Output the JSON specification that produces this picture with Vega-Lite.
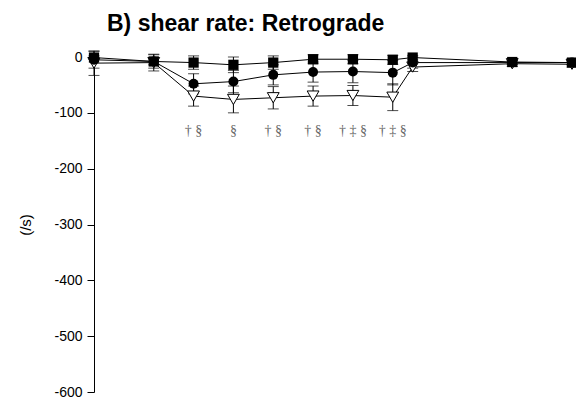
{
  "$schema": "https://vega.github.io/schema/vega-lite/v6.json",
  "width": 478,
  "height": 335,
  "autosize": "none",
  "padding": {"left": 94, "top": 57, "right": 4, "bottom": 9},
  "background": "white",
  "title": {"text": "B) shear rate: Retrograde", "anchor": "start", "frame": "group", "dx": 13, "fontSize": 23, "fontWeight": "bold", "font": "Liberation Sans", "color": "black", "offset": 14},
  "config": {"view": {"stroke": null}},
  "datasets": {
    "pts": [
      {"t": 0, "g": "g1", "m": -1, "sd": 3},
      {"t": 3, "g": "g1", "m": -8, "sd": 6},
      {"t": 5, "g": "g1", "m": -10, "sd": 12},
      {"t": 7, "g": "g1", "m": -14, "sd": 14},
      {"t": 9, "g": "g1", "m": -10, "sd": 12},
      {"t": 11, "g": "g1", "m": -4, "sd": 8},
      {"t": 13, "g": "g1", "m": -4, "sd": 8},
      {"t": 15, "g": "g1", "m": -5, "sd": 8},
      {"t": 16, "g": "g1", "m": -1, "sd": 4},
      {"t": 21, "g": "g1", "m": -9, "sd": 4},
      {"t": 24, "g": "g1", "m": -10, "sd": 4},
      {"t": 0, "g": "g2", "m": -5, "sd": 15},
      {"t": 3, "g": "g2", "m": -8, "sd": 12},
      {"t": 5, "g": "g2", "m": -48, "sd": 18},
      {"t": 7, "g": "g2", "m": -44, "sd": 20},
      {"t": 9, "g": "g2", "m": -32, "sd": 18},
      {"t": 11, "g": "g2", "m": -27, "sd": 18},
      {"t": 13, "g": "g2", "m": -26, "sd": 20},
      {"t": 15, "g": "g2", "m": -28, "sd": 22},
      {"t": 16, "g": "g2", "m": -10, "sd": 10},
      {"t": 21, "g": "g2", "m": -10, "sd": 4},
      {"t": 24, "g": "g2", "m": -10, "sd": 4},
      {"t": 0, "g": "g3", "m": -11, "sd": 22},
      {"t": 3, "g": "g3", "m": -10, "sd": 15},
      {"t": 5, "g": "g3", "m": -70, "sd": 18},
      {"t": 7, "g": "g3", "m": -76, "sd": 24},
      {"t": 9, "g": "g3", "m": -73, "sd": 20},
      {"t": 11, "g": "g3", "m": -70, "sd": 18},
      {"t": 13, "g": "g3", "m": -69, "sd": 18},
      {"t": 15, "g": "g3", "m": -72, "sd": 24},
      {"t": 16, "g": "g3", "m": -18, "sd": 8},
      {"t": 21, "g": "g3", "m": -12, "sd": 5},
      {"t": 24, "g": "g3", "m": -13, "sd": 5}
    ],
    "notes": [
      {"t": 5, "label": "† §"},
      {"t": 7, "label": "§"},
      {"t": 9, "label": "† §"},
      {"t": 11, "label": "† §"},
      {"t": 13, "label": "† ‡ §"},
      {"t": 15, "label": "† ‡ §"}
    ]
  },
  "encoding": {
    "x": {"field": "t", "type": "quantitative", "scale": {"domain": [0, 24], "nice": false, "zero": false}, "axis": null}
  },
  "layer": [
    {
      "data": {"name": "pts"},
      "mark": {"type": "line", "color": "black", "strokeWidth": 1, "clip": false},
      "encoding": {
        "y": {"field": "m", "type": "quantitative", "title": "(/s)", "scale": {"domain": [-600, 0], "nice": false},
          "axis": {"title": "(/s)", "values": [0, -100, -200, -300, -400, -500, -600], "labelExpr": "toString(datum.value)", "grid": false, "domainColor": "black", "tickColor": "black", "tickSize": 7, "labelPadding": 5, "labelFont": "Liberation Sans", "labelFontSize": 14, "labelColor": "black", "titleFont": "Liberation Sans", "titleFontSize": 15, "titleFontWeight": "normal", "titleColor": "black", "titlePadding": 20}},
        "detail": {"field": "g"}
      }
    },
    {
      "data": {"name": "pts"},
      "mark": {"type": "errorbar", "color": "black", "ticks": {"size": 11, "color": "black"}, "rule": {"strokeWidth": 1}},
      "encoding": {
        "y": {"field": "m", "type": "quantitative", "title": "(/s)"},
        "yError": {"field": "sd"},
        "detail": {"field": "g"}
      }
    },
    {
      "data": {"name": "pts"},
      "transform": [{"filter": "datum.g === 'g3'"}],
      "mark": {"type": "point", "shape": "triangle-down", "size": 140, "filled": true, "fill": "white", "stroke": "black", "strokeWidth": 1, "opacity": 1},
      "encoding": {"y": {"field": "m", "type": "quantitative", "title": "(/s)"}}
    },
    {
      "data": {"name": "pts"},
      "transform": [{"filter": "datum.g === 'g2'"}],
      "mark": {"type": "point", "shape": "circle", "size": 100, "filled": true, "color": "black", "opacity": 1},
      "encoding": {"y": {"field": "m", "type": "quantitative", "title": "(/s)"}}
    },
    {
      "data": {"name": "pts"},
      "transform": [{"filter": "datum.g === 'g1'"}],
      "mark": {"type": "point", "shape": "square", "size": 105, "filled": true, "color": "black", "opacity": 1},
      "encoding": {"y": {"field": "m", "type": "quantitative", "title": "(/s)"}}
    },
    {
      "data": {"name": "notes"},
      "mark": {"type": "text", "font": "Liberation Serif", "fontSize": 14, "color": "#666666", "align": "center", "baseline": "middle"},
      "encoding": {
        "y": {"datum": -132, "type": "quantitative"},
        "text": {"field": "label"}
      }
    }
  ]
}
